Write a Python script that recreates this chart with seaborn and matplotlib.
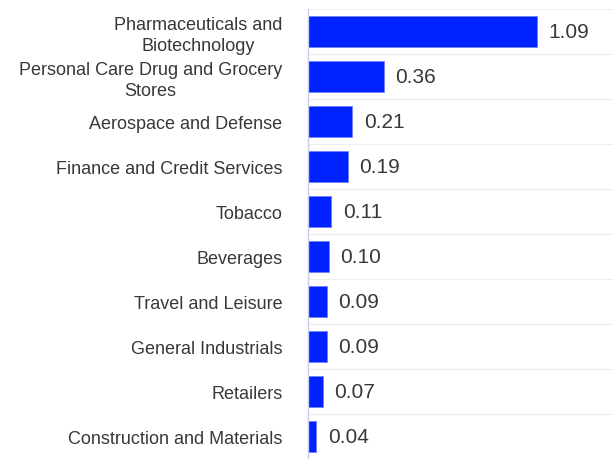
import matplotlib
matplotlib.use("Agg")
import matplotlib.pyplot as plt
import seaborn as sns
import pandas as pd
import numpy as np

categories = ["Pharmaceuticals and\nBiotechnology", "Personal Care Drug and Grocery\nStores",
              "Aerospace and Defense", "Finance and Credit Services", "Tobacco", "Beverages",
              "Travel and Leisure", "General Industrials", "Retailers", "Construction and Materials"]
values = [1.09, 0.36, 0.21, 0.19, 0.11, 0.10, 0.09, 0.09, 0.07, 0.04]
value_labels = ["1.09", "0.36", "0.21", "0.19", "0.11", "0.10", "0.09", "0.09", "0.07", "0.04"]

sns.set_style("white")
plt.rcParams['font.family'] = ['Liberation Sans', 'DejaVu Sans']

df = pd.DataFrame({"cat": categories, "val": values})
fig = plt.figure(figsize=(6.13, 4.6), dpi=100)
ax = fig.add_axes([308/613, 0.0, 1 - 308/613, 450/460])
sns.barplot(data=df, y="cat", x="val", orient="h", color="#0022ff", saturation=1,
            width=0.7, ax=ax, edgecolor="#6f80ff", linewidth=0.6)
ax.set_xlim(0, 305/210)
ax.set_ylim(len(categories) - 0.5, -0.5)
for i in range(len(categories) + 1):
    ax.axhline(i - 0.5, color="#eeeeee", lw=0.8, zorder=0)
for i, (v, t) in enumerate(zip(values, value_labels)):
    ax.text(v + 0.055, i, t, va="center", ha="left", fontsize=15, color="#383838")
ax.set_xlabel("")
ax.set_ylabel("")
ax.set_xticks([])
ax.tick_params(axis="y", length=0, pad=18.5, labelsize=13, labelcolor="#383838")
for lbl in ax.get_yticklabels():
    lbl.set_multialignment("center")
    lbl.set_linespacing(1.3)
for s in ["top", "right", "bottom"]:
    ax.spines[s].set_visible(False)
ax.spines["left"].set_color("#c8ccee")
ax.spines["left"].set_linewidth(1)
fig.savefig("out.png", dpi=100)
